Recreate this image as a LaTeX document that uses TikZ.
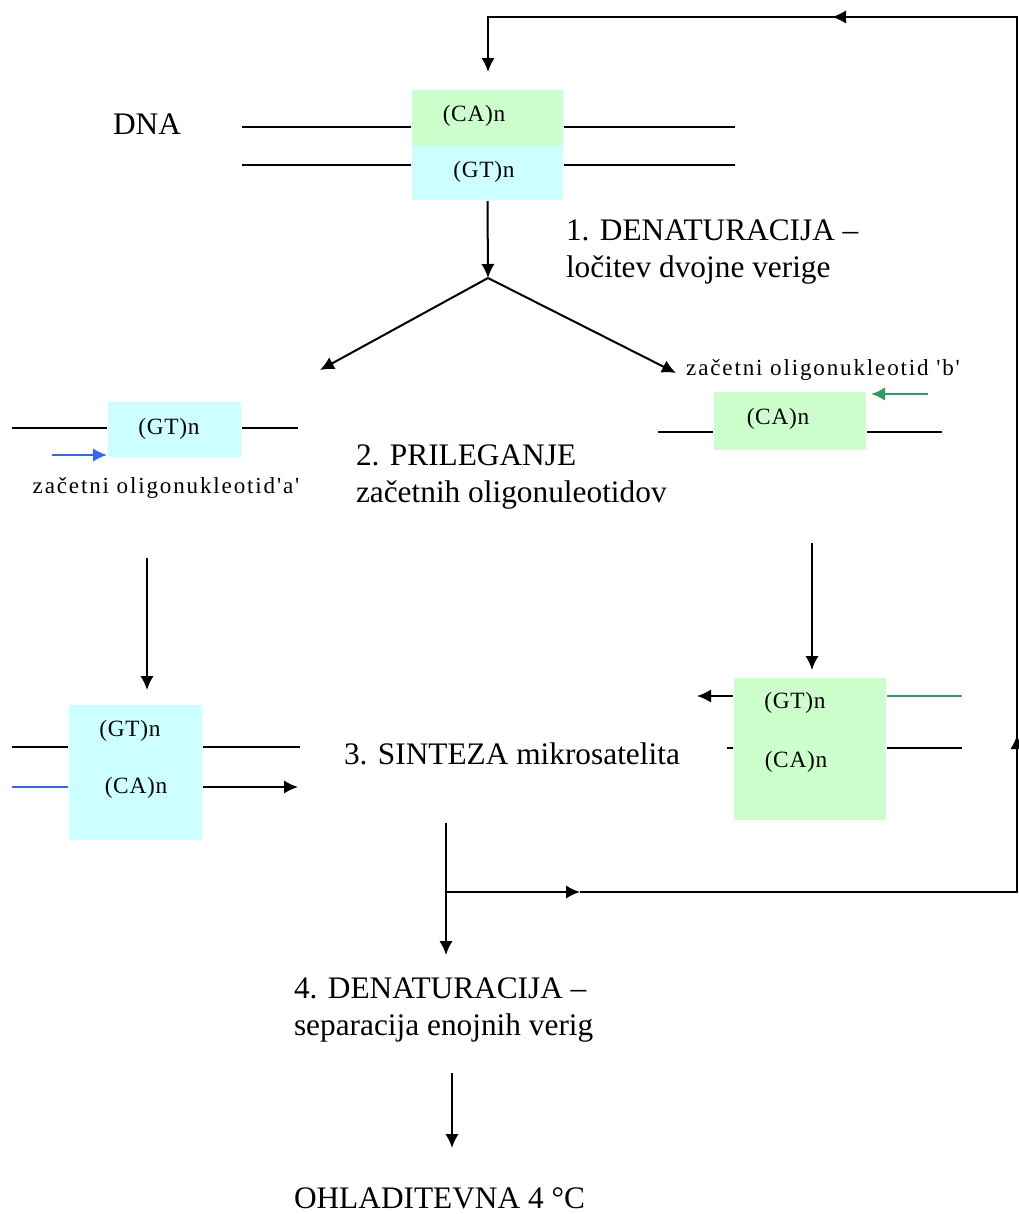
\documentclass[tikz,border=0pt]{standalone}
\usepackage{fontspec}
\setmainfont{Liberation Serif}
\newfontfamily\spacedfont[LetterSpace=8]{Liberation Serif}
\newfontfamily\seqfont[LetterSpace=3]{Liberation Serif}
\usetikzlibrary{arrows.meta}
\definecolor{cagreen}{RGB}{204,255,204}
\definecolor{gtcyan}{RGB}{204,255,255}
\definecolor{primerblue}{RGB}{51,102,255}
\definecolor{primergreen}{RGB}{51,153,102}
\begin{document}
\begin{tikzpicture}[x=0.75pt,y=-0.75pt,line width=1.5pt,
	>={Latex[length=10.5pt,width=10pt]},
	steptext/.style={anchor=west,align=left,inner sep=0pt,font=\fontsize{23.5}{27.75}\selectfont},
	seq/.style={inner sep=0pt,font=\seqfont\fontsize{17.5}{20}\selectfont},
	primer/.style={inner sep=0pt,font=\spacedfont\fontsize{17.3}{20}\selectfont},
	repeatbox/.style={inner sep=0pt,fill=#1}]
	\useasboundingbox (0,0) rectangle (1018,1214);
	\node[repeatbox=cagreen,minimum width=113.25pt,minimum height=42pt] at (487.5,118) (ca0) {};
	\node[repeatbox=gtcyan,minimum width=113.25pt,minimum height=40.5pt] at (487.5,173) (gt0) {};
	\node[seq] at (474,116) (ca0l) {(CA)n};
	\node[seq] at (484,172) (gt0l) {(GT)n};
	\node[steptext,anchor=base] at (147,134) (dna) {DNA};
	\node[steptext] at (565,252) (den1) {1. DENATURACIJA --\\ločitev dvojne verige};
	\node[repeatbox=gtcyan,minimum width=99.75pt,minimum height=41.25pt] at (174.5,429.5) (gta) {};
	\node[seq] at (169,429) (gtal) {(GT)n};
	\node[primer] at (166,488) (prima) {začetni oligonukleotid'a'};
	\node[repeatbox=cagreen,minimum width=114pt,minimum height=43.5pt] at (790,421) (cab) {};
	\node[seq] at (778,419) (cabl) {(CA)n};
	\node[primer] at (823,370) (primb) {začetni oligonukleotid 'b'};
	\node[steptext] at (355,477) (anneal) {2. PRILEGANJE\\začetnih oligonuleotidov};
	\node[repeatbox=gtcyan,minimum width=99.75pt,minimum height=101.25pt] at (135.5,772.5) (sa) {};
	\node[seq] at (130,731) (sagt) {(GT)n};
	\node[seq] at (136,788) (saca) {(CA)n};
	\node[repeatbox=cagreen,minimum width=114pt,minimum height=106.5pt] at (810,749) (sb) {};
	\node[seq] at (795,703) (sbgt) {(GT)n};
	\node[seq] at (796,762) (sbca) {(CA)n};
	\node[steptext] at (343,754) (synth) {3. SINTEZA mikrosatelita};
	\node[steptext] at (293,1009.5) (den2) {4. DENATURACIJA --\\separacija enojnih verig};
	\node[steptext] at (293,1198) (cool) {OHLADITEVNA 4 °C};
	\coordinate (dnaa1) at (242,127);
	\coordinate (dnaa2) at (735,127);
	\coordinate (dnab1) at (242,165);
	\coordinate (dnab2) at (735,165);
	\coordinate (split) at (488,278);
	\coordinate (toa) at (320,370);
	\coordinate (tob) at (676,373);
	\coordinate (la1) at (12,428);
	\coordinate (la2) at (298,428);
	\coordinate (pa) at (52,455);
	\coordinate (lb1) at (658,432);
	\coordinate (lb2) at (942,432);
	\coordinate (pb) at (928,394);
	\coordinate (downa1) at (147,558);
	\coordinate (downa2) at (147,690);
	\coordinate (downb1) at (812,543);
	\coordinate (downb2) at (812,670);
	\coordinate (sa1) at (12,747);
	\coordinate (sa2) at (300,747);
	\coordinate (sa3) at (12,787);
	\coordinate (sa4) at (298,787);
	\coordinate (sb1) at (697,696);
	\coordinate (sb2) at (962,696);
	\coordinate (sb3) at (727,748);
	\coordinate (sb4) at (962,748);
	\coordinate (down1) at (446,823);
	\coordinate (join) at (446,892);
	\coordinate (down2) at (446,955);
	\coordinate (mid1) at (580,892);
	\coordinate (corner1) at (1017,892);
	\coordinate (mid2) at (1017,735);
	\coordinate (corner2) at (1017,17);
	\coordinate (mid3) at (832,17);
	\coordinate (corner3) at (488,17);
	\coordinate (loopend) at (488,72);
	\coordinate (down3) at (452,1073);
	\coordinate (down4) at (452,1148);
	\draw (dnaa1) -- (ca0.west |- dnaa1);
	\draw (ca0.east |- dnaa2) -- (dnaa2);
	\draw (dnab1) -- (gt0.west |- dnab1);
	\draw (gt0.east |- dnab2) -- (dnab2);
	\draw[->] (gt0.south) -- (split);
	\path (split) edge[->] (toa)
	(split) edge[->] (tob);
	\draw (la1) -- (gta.west |- la1);
	\draw (gta.east |- la2) -- (la2);
	\draw[->,primerblue] (pa) -- (gta.west |- pa);
	\draw (lb1) -- (cab.west |- lb1);
	\draw (cab.east |- lb2) -- (lb2);
	\draw[->,primergreen] (pb) -- ([xshift=3pt]cab.east |- pb);
	\draw[->] (downa1) -- (downa2);
	\draw[->] (downb1) -- (downb2);
	\draw (sa1) -- (sa.west |- sa1);
	\draw (sa.east |- sa2) -- (sa2);
	\draw[primerblue] (sa3) -- (sa.west |- sa3);
	\draw[->] (sa.east |- sa4) -- (sa4);
	\draw[->] (sb.west |- sb1) -- (sb1);
	\draw[primergreen] (sb.east |- sb2) -- (sb2);
	\draw (sb3) -- (sb.west |- sb3);
	\draw (sb.east |- sb4) -- (sb4);
	\draw[->] (down1) -- (down2);
	\draw[->] (join) -- (mid1);
	\draw (mid1) -- (corner1) -- (mid2);
	\draw[->] (corner1) -- (mid2);
	\draw (mid2) -- (corner2) -- (mid3);
	\draw[->] (corner2) -- (mid3);
	\draw[->] (mid3) -- (corner3) -- (loopend);
	\draw[->] (down3) -- (down4);
\end{tikzpicture}
\end{document}
